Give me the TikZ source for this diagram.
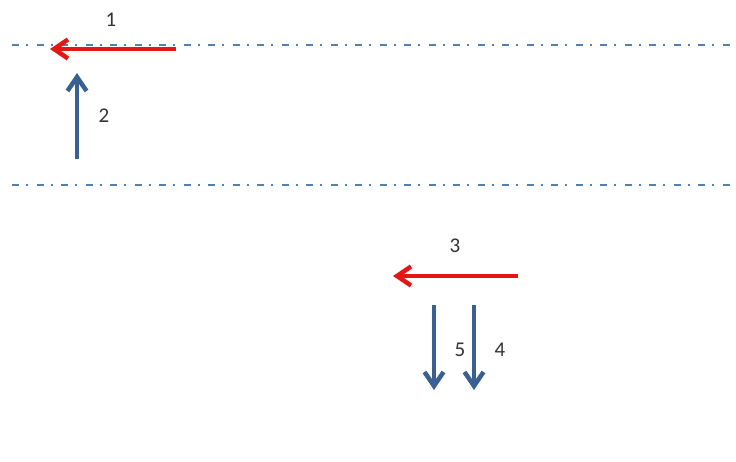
\documentclass[tikz,border=0pt]{standalone}
\usepackage{fontspec}
\setmainfont{Carlito}
\usetikzlibrary{arrows.meta, positioning}
\definecolor{axisblue}{RGB}{84,128,176}
\definecolor{arrowblue}{RGB}{56,97,146}
\definecolor{arrowred}{RGB}{228,22,22}
\tikzstyle{centreline} = [axisblue, line width=1.3pt, dash pattern=on 7pt off 7pt on 2pt off 8.5pt]
\tikzstyle{redarrow} = [arrowred, line width=4pt, -{Straight Barb[length=14pt,width=19pt,line width=4.5pt]}]
\tikzstyle{bluearrow} = [arrowblue, line width=4pt, -{Straight Barb[length=14pt,width=19pt,line width=4.5pt]}]
\tikzstyle{num} = [inner sep=0pt, text=black!80, font=\fontsize{21}{24}\selectfont]

\begin{document}
\begin{tikzpicture}[x=1pt, y=-1pt, node distance=1cm]
    \useasboundingbox (0,0) rectangle (736,462);

    % centre lines
    \coordinate (top start) at (12,45);
    \coordinate (top end) at (736,45);
    \coordinate (low start) at (12,185);
    \coordinate (low end) at (736,185);
    \draw [centreline] (top start) -- (top end);
    \draw [centreline] (low start) -- (low end);

    % arrow end points
    \coordinate (a1 tail) at (176,49);
    \coordinate (a1 head) at (50,49);
    \coordinate (a2 tail) at (77,159);
    \coordinate (a2 head) at (77,73);
    \coordinate (a3 tail) at (518,276);
    \coordinate (a3 head) at (393,276);
    \coordinate (a5 tail) at (434,305);
    \coordinate (a5 head) at (434,390);
    \coordinate (a4 tail) at (474,305);
    \coordinate (a4 head) at (474,390);

    \draw [redarrow] (a1 tail) -- (a1 head);
    \draw [bluearrow] (a2 tail) -- (a2 head);
    \draw [redarrow] (a3 tail) -- (a3 head);
    \draw [bluearrow] (a5 tail) -- (a5 head);
    \draw [bluearrow] (a4 tail) -- (a4 head);

    % labels
    \node (l1) [num] at (111,20) {1};
    \node (l2) [num] at (104,116) {2};
    \node (l3) [num] at (455,246) {3};
    \node (l5) [num] at (460,350) {5};
    \node (l4) [num] at (500,350) {4};
\end{tikzpicture}
\end{document}
